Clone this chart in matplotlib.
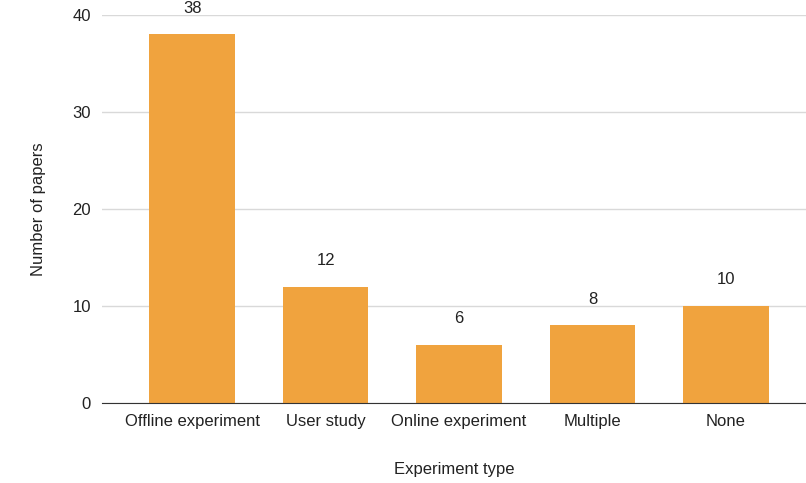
import matplotlib.pyplot as plt

categories = ["Offline experiment", "User study", "Online experiment", "Multiple", "None"]
papers = [38, 12, 6, 8, 10]

plt.rcParams["font.family"] = ["Liberation Sans", "DejaVu Sans"]

fig = plt.figure(figsize=(8.06, 4.83), dpi=100)
ax = fig.add_axes([0.1266, 0.1656, 0.8734, 0.8034])

x = list(range(len(categories)))
ax.bar(x, papers, width=0.64, color="#f0a33e", zorder=3)
for xi, v in zip(x, papers):
    ax.text(xi, v + 2.7, str(v), ha="center", va="center", fontsize=12, color="#222222",
            clip_on=False)

ax.set_xlim(-0.675, 4.6)
ax.set_ylim(0, 40)
ax.set_yticks([0, 10, 20, 30, 40])
ax.set_xticks(x)
ax.set_xticklabels(categories)
ax.tick_params(axis="both", length=0, labelsize=12, colors="#222222")
ax.tick_params(axis="y", pad=8)
ax.tick_params(axis="x", pad=8)
ax.grid(axis="y", color="#d9d9d9", linewidth=1, zorder=0)
for s in ["top", "right", "left"]:
    ax.spines[s].set_visible(False)
ax.spines["bottom"].set_color("#333333")
ax.spines["bottom"].set_zorder(4)

ax.set_xlabel("Experiment type", fontsize=12, color="#222222", labelpad=24)
ax.set_ylabel("Number of papers", fontsize=12, color="#222222", labelpad=19)

fig.savefig("out.png", dpi=100)
